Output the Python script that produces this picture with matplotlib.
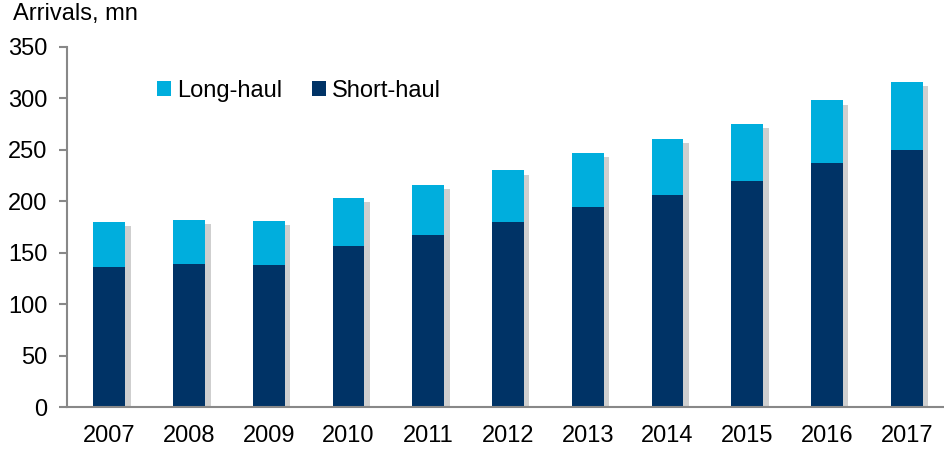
import matplotlib
matplotlib.use("Agg")
import matplotlib.pyplot as plt
import matplotlib.patheffects as pe
import numpy as np

years = ["2007", "2008", "2009", "2010", "2011", "2012", "2013", "2014", "2015", "2016", "2017"]
short_haul = [136, 139, 138, 157, 167, 180, 194, 206, 220, 237, 250]
total = [180, 182, 181, 203, 216, 230, 247, 261, 275, 298, 316]
long_haul = [t - s for t, s in zip(total, short_haul)]

plt.rcParams['font.family'] = ['Liberation Sans', 'DejaVu Sans']

fig = plt.figure(figsize=(9.45, 4.5), dpi=100)
ax = fig.add_axes([67/945, 43/450, 878/945, 360/450])

x = np.arange(len(years))
# drop shadow under the whole stacked bar
sh = ax.bar(x, total, width=0.4, color='none', zorder=2)
for r in sh:
    r.set_path_effects([pe.SimplePatchShadow(offset=(4, -3), shadow_rgbFace='#777777', alpha=0.35)])
b1 = ax.bar(x, short_haul, width=0.4, color='#003366', label='Short-haul', zorder=3)
b2 = ax.bar(x, long_haul, bottom=short_haul, width=0.4, color='#00AEDD', label='Long-haul', zorder=3)

ax.set_xlim(-0.53, 10.48)
ax.set_ylim(0, 350)
ax.set_yticks(range(0, 351, 50))
ax.set_xticks(x)
ax.set_xticklabels(years)
for s in ['top', 'right']:
    ax.spines[s].set_visible(False)
for s in ['left', 'bottom']:
    ax.spines[s].set_color('#888888')
    ax.spines[s].set_linewidth(1.5)
    ax.spines[s].set_zorder(4)
ax.tick_params(axis='y', direction='out', length=6, width=1.5, color='#888888', labelsize=17, pad=8)
ax.tick_params(axis='x', length=0, labelsize=17, pad=13)

handles = [b2, b1]
ax.legend(handles, ['Long-haul', 'Short-haul'], ncol=2, frameon=False, fontsize=17,
          loc='center left', bbox_to_anchor=(136/945, 1 - 91/450), bbox_transform=fig.transFigure,
          handlelength=0.6, handleheight=0.6, handletextpad=0.25, columnspacing=1.25)

fig.text(13/945, 1 - 3/450, 'Arrivals, mn', fontsize=17, va='top', ha='left')

fig.savefig('out.png', dpi=100)
